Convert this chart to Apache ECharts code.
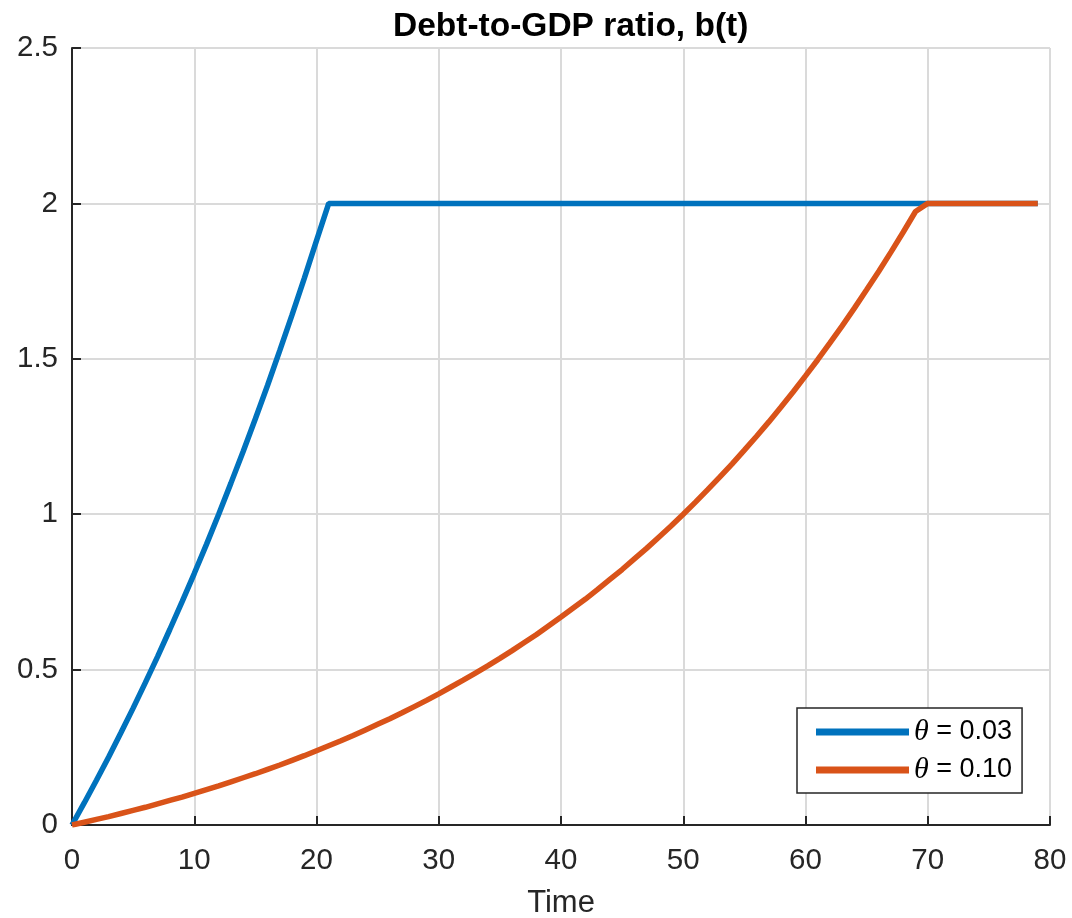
<!DOCTYPE html>
<html>
<head>
<meta charset="utf-8">
<script src="https://cdn.jsdelivr.net/npm/echarts@6/dist/echarts.min.js"></script>
<style>
html,body{margin:0;padding:0;background:#fff;}
#chart{width:1072px;height:918px;}
</style>
</head>
<body>
<div id="chart"></div>
<script>
const titleText = 'Debt-to-GDP ratio, b(t)';
const xName = 'Time';
const time = [0,1,2,3,4,5,6,7,8,9,10,11,12,13,14,15,16,17,18,19,20,21,22,23,24,25,26,27,28,29,30,31,32,33,34,35,36,37,38,39,40,41,42,43,44,45,46,47,48,49,50,51,52,53,54,55,56,57,58,59,60,61,62,63,64,65,66,67,68,69,70,71,72,73,74,75,76,77,78,79];
const seriesNames = ['θ = 0.03', 'θ = 0.10'];
const theta003 = [0,0.071,0.144,0.219,0.297,0.376,0.458,0.542,0.629,0.718,0.809,0.903,1.000,1.100,1.202,1.307,1.415,1.527,1.641,1.759,1.880,2.0,2.0,2.0,2.0,2.0,2.0,2.0,2.0,2.0,2.0,2.0,2.0,2.0,2.0,2.0,2.0,2.0,2.0,2.0,2.0,2.0,2.0,2.0,2.0,2.0,2.0,2.0,2.0,2.0,2.0,2.0,2.0,2.0,2.0,2.0,2.0,2.0,2.0,2.0,2.0,2.0,2.0,2.0,2.0,2.0,2.0,2.0,2.0,2.0,2.0,2.0,2.0,2.0,2.0,2.0,2.0,2.0,2.0,2.0];
const theta010 = [0,0.009,0.018,0.027,0.037,0.047,0.057,0.068,0.079,0.090,0.102,0.114,0.126,0.139,0.152,0.165,0.179,0.193,0.208,0.223,0.239,0.255,0.271,0.288,0.306,0.324,0.342,0.361,0.381,0.401,0.422,0.444,0.466,0.489,0.512,0.536,0.561,0.587,0.613,0.641,0.669,0.698,0.727,0.758,0.790,0.822,0.856,0.890,0.926,0.962,1.000,1.039,1.079,1.120,1.162,1.206,1.251,1.297,1.345,1.394,1.445,1.497,1.551,1.606,1.663,1.722,1.782,1.844,1.908,1.974,2.0,2.0,2.0,2.0,2.0,2.0,2.0,2.0,2.0,2.0];
const xTicks = {min:0, max:80, interval:10};
const yTicks = {min:0, max:2.5, interval:0.5};

const pairs = (vals) => time.map((t, i) => [t, vals[i]]);
const FONT = '"Liberation Sans", Arial, Helvetica, sans-serif';
const TXT = '#262626';
const GRID = '#dadada';

const chart = echarts.init(document.getElementById('chart'), null, {renderer:'canvas'});
chart.setOption({
  animation: false,
  backgroundColor: '#ffffff',
  title: {
    text: titleText,
    left: 388, top: 5,
    textStyle: {fontFamily: FONT, fontSize: 33.5, fontWeight: 'bold', color: '#000'}
  },
  grid: {left: 72, right: 22, top: 48, bottom: 93, containLabel: false, outerBoundsMode: 'none'},
  xAxis: {
    type: 'value', min: xTicks.min, max: xTicks.max, interval: xTicks.interval,
    name: xName, nameLocation: 'middle', nameGap: 63,
    nameTextStyle: {fontFamily: FONT, fontSize: 31, color: TXT},
    axisLine: {show: true, onZero: false, lineStyle: {color: TXT, width: 2}},
    axisTick: {show: true, inside: true, length: 9, lineStyle: {color: TXT, width: 2}},
    axisLabel: {fontFamily: FONT, fontSize: 29.5, color: TXT, margin: 21},
    splitLine: {show: true, lineStyle: {color: GRID, width: 2}}
  },
  yAxis: {
    type: 'value', min: yTicks.min, max: yTicks.max, interval: yTicks.interval,
    axisLine: {show: true, onZero: false, lineStyle: {color: TXT, width: 2}},
    axisTick: {show: true, inside: true, length: 9, lineStyle: {color: TXT, width: 2}},
    axisLabel: {fontFamily: FONT, fontSize: 29.5, color: TXT, margin: 14},
    splitLine: {show: true, lineStyle: {color: GRID, width: 2}}
  },
  legend: {
    orient: 'vertical', left: 797, top: 708,
    padding: [9, 10, 8, 19],
    itemGap: 8, itemWidth: 93, itemHeight: 7,
    icon: 'rect',
    backgroundColor: '#ffffff',
    borderColor: TXT, borderWidth: 1.5, borderRadius: 0,
    data: seriesNames,
    formatter: function (name) { return '{th|θ}' + name.slice(1); },
    textStyle: {
      fontFamily: FONT, fontSize: 27, color: '#000', lineHeight: 30, padding: [0,0,0,0],
      rich: {th: {fontFamily: '"Liberation Serif", "DejaVu Serif", serif', fontStyle: 'italic', fontSize: 30, color: '#000'}}
    }
  },
  series: [
    {name: seriesNames[0], type: 'line', data: pairs(theta003), symbol: 'none', showSymbol: false,
     lineStyle: {color: '#0072BD', width: 5.5}, itemStyle: {color: '#0072BD'}, z: 2},
    {name: seriesNames[1], type: 'line', data: pairs(theta010), symbol: 'none', showSymbol: false,
     lineStyle: {color: '#D95319', width: 5.5}, itemStyle: {color: '#D95319'}, z: 3}
  ]
});
</script>
</body>
</html>
